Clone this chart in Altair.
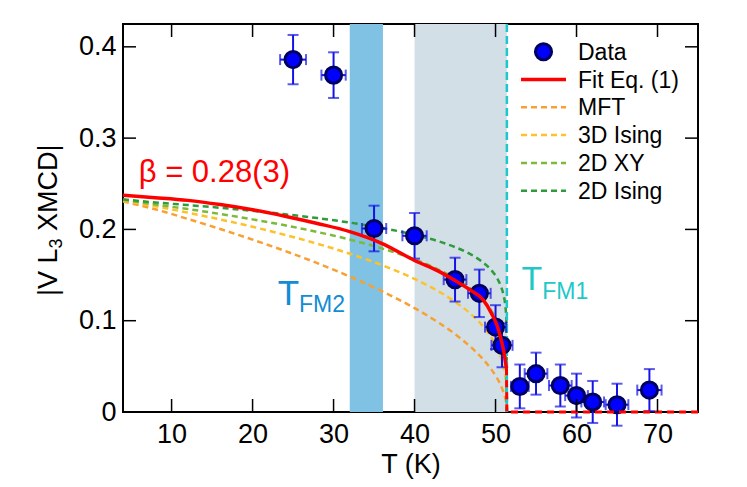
import altair as alt
import pandas as pd

# ---------------- data ----------------
T_data = [25, 30, 35, 40, 45, 48, 50, 50.8, 53, 55, 58, 60, 62, 65, 69]
M_data = [0.386, 0.369, 0.201, 0.193, 0.145, 0.130, 0.093, 0.073, 0.028, 0.042, 0.029, 0.018, 0.011, 0.008, 0.024]
M_err = [0.027, 0.025, 0.025, 0.025, 0.024, 0.026, 0.024, 0.024, 0.024, 0.023, 0.023, 0.024, 0.023, 0.023, 0.023]
T_err = [1.6, 1.5, 1.5, 1.5, 1.4, 1.4, 1.3, 1.3, 1.1, 1.4, 1.4, 1.4, 1.4, 1.4, 1.5]

T_curve = [4, 8, 12, 16, 20, 24, 28, 32, 36, 40, 43, 45, 47, 48.5, 49.5, 50.2, 50.7, 51.0, 51.2, 51.35, 51.4]
M_mft = [0.2305, 0.2220, 0.2115, 0.2005, 0.1888, 0.1764, 0.1630, 0.1484, 0.1322, 0.1138, 0.0977, 0.0853,
         0.0707, 0.0574, 0.0464, 0.0369, 0.0282, 0.0213, 0.0151, 0.0075, 0.0]
M_3dising = [0.2315, 0.2254, 0.2184, 0.2109, 0.2029, 0.1940, 0.1843, 0.1734, 0.1608, 0.1458, 0.1320, 0.1208,
             0.1069, 0.0933, 0.0813, 0.0700, 0.0587, 0.0489, 0.0390, 0.0248, 0.0]
M_2dxy = [0.2325, 0.2273, 0.2223, 0.2169, 0.2110, 0.2045, 0.1972, 0.1889, 0.1791, 0.1672, 0.1558, 0.1464,
          0.1343, 0.1220, 0.1107, 0.0996, 0.0880, 0.0774, 0.0660, 0.0480, 0.0]
M_2dising = [0.2330, 0.2295, 0.2267, 0.2237, 0.2204, 0.2166, 0.2124, 0.2075, 0.2016, 0.1941, 0.1869, 0.1806,
             0.1724, 0.1636, 0.1552, 0.1465, 0.1370, 0.1277, 0.1171, 0.0985, 0.0]

T_fit = [4, 8, 12, 16, 20, 24, 28, 32, 36, 40, 43, 45, 47, 48.5, 49.5, 50.2, 50.7, 51.0, 51.2, 51.35]
M_fit = [0.2374, 0.2348, 0.2318, 0.2272, 0.2215, 0.2145, 0.2065, 0.1975, 0.1845, 0.1660, 0.1540, 0.1440,
         0.1330, 0.1225, 0.1080, 0.0945, 0.0790, 0.0670, 0.0560, 0.0480]
T_fit_dash = [51.35, 51.4, 75]
M_fit_dash = [0.0480, 0.0, 0.0]

Tc1 = 51.4
band_lo = [32.0, 40.0]
band_hi = [36.1, 51.4]
band_col = ["#7fc2e4", "#d3dfe7"]

x_ticks = [10, 20, 30, 40, 50, 60, 70]
y_ticks = [0, 0.1, 0.2, 0.3, 0.4]

series_names = ["MFT", "3D Ising", "2D XY", "2D Ising"]
series_cols = ["#f9a032", "#fdc22a", "#7cbb3a", "#2e9c3c"]
legend_names = ["Data", "Fit Eq. (1)"] + series_names

# ---------------- layout ----------------
W, H = 575, 388
FONT = "Liberation Sans, Arial, Helvetica, sans-serif"
xs = alt.Scale(domain=[4, 75], nice=False, zero=False)
ys = alt.Scale(domain=[0, 0.425], nice=False, zero=False)

xax = alt.Axis(values=x_ticks, ticks=False, domain=False, grid=False, labelFlush=False,
               labelFontSize=27, labelFont=FONT, labelColor="black", labelPadding=9,
               title="T (K)", titleFontSize=27, titleFont=FONT, titleFontWeight="normal",
               titleColor="black", titlePadding=4)
yax = alt.Axis(values=y_ticks, format=".1~f", ticks=False, domain=False, grid=False, labelFlush=False,
               labelFontSize=27, labelFont=FONT, labelColor="black", labelPadding=7, title=None)


def X(f):
    return alt.X(f, type="quantitative", scale=xs, axis=xax)


def Y(f):
    return alt.Y(f, type="quantitative", scale=ys, axis=yax)


layers = []

# shaded bands
df_band = pd.DataFrame({"lo": band_lo, "hi": band_hi, "c": band_col})
layers.append(alt.Chart(df_band).mark_rect().encode(
    x=X("lo"), x2="hi", y=alt.value(0), y2=alt.value(H), color=alt.Color("c:N", scale=None)))

# theory curves (dashed)
rows = []
for name, vals in zip(series_names, [M_mft, M_3dising, M_2dxy, M_2dising]):
    for t, m in zip(T_curve, vals):
        rows.append({"series": name, "T": t, "M": m})
df_curves = pd.DataFrame(rows)
layers.append(alt.Chart(df_curves).mark_line(strokeDash=[6, 4], strokeWidth=2.5, interpolate="monotone").encode(
    x=X("T"), y=Y("M"),
    color=alt.Color("series:N", scale=alt.Scale(domain=series_names, range=series_cols), legend=None),
    detail="series:N"))

# Tc line
df_tc = pd.DataFrame({"T": [Tc1]})
layers.append(alt.Chart(df_tc).mark_rule(color="#1fc6cf", strokeWidth=2.5, strokeDash=[8, 4]).encode(
    x=X("T"), y=alt.value(0), y2=alt.value(H)))

# data with error bars
df_pts = pd.DataFrame({"T": T_data, "M": M_data, "Te": T_err, "Me": M_err})
df_pts["Mlo"] = df_pts["M"] - df_pts["Me"]
df_pts["Mhi"] = df_pts["M"] + df_pts["Me"]
df_pts["Tlo"] = df_pts["T"] - df_pts["Te"]
df_pts["Thi"] = df_pts["T"] + df_pts["Te"]
EB = "#1414e6"
pts = alt.Chart(df_pts)
layers.append(pts.mark_rule(color=EB, strokeWidth=2).encode(x=X("T"), y=Y("Mlo"), y2="Mhi"))
layers.append(pts.mark_rule(color=EB, strokeWidth=2).encode(x=X("Tlo"), x2="Thi", y=Y("M")))
for f in ["Mlo", "Mhi"]:
    layers.append(pts.mark_tick(color=EB, orient="horizontal", size=11, thickness=2).encode(x=X("T"), y=Y(f)))
for f in ["Tlo", "Thi"]:
    layers.append(pts.mark_tick(color=EB, orient="vertical", size=11, thickness=2).encode(x=X(f), y=Y("M")))
layers.append(pts.mark_point(shape="circle", filled=True, size=260, fill="#0000ff", stroke="#000060",
                             strokeWidth=3, opacity=1, fillOpacity=1, strokeOpacity=1).encode(x=X("T"), y=Y("M")))

# fit
df_fit = pd.DataFrame({"T": T_fit, "M": M_fit})
layers.append(alt.Chart(df_fit).mark_line(color="#ff0000", strokeWidth=3.5, interpolate="monotone").encode(
    x=X("T"), y=Y("M")))
df_fitd = pd.DataFrame({"T": T_fit_dash, "M": M_fit_dash})
layers.append(alt.Chart(df_fitd).mark_line(color="#ff0000", strokeWidth=3, strokeDash=[7, 5]).encode(
    x=X("T"), y=Y("M")))

# inward ticks on all four sides
df_xt = pd.DataFrame({"T": x_ticks})
df_yt = pd.DataFrame({"M": y_ticks[1:]})
TL = 13
layers.append(alt.Chart(df_xt).mark_rule(color="black", strokeWidth=1.5).encode(
    x=X("T"), y=alt.value(H), y2=alt.value(H - TL)))
layers.append(alt.Chart(df_xt).mark_rule(color="black", strokeWidth=1.5).encode(
    x=X("T"), y=alt.value(0), y2=alt.value(TL)))
layers.append(alt.Chart(df_yt).mark_rule(color="black", strokeWidth=1.5).encode(
    y=Y("M"), x=alt.value(0), x2=alt.value(TL)))
layers.append(alt.Chart(df_yt).mark_rule(color="black", strokeWidth=1.5).encode(
    y=Y("M"), x=alt.value(W), x2=alt.value(W - TL)))

# annotations (placed in data coordinates)
def label(txt, t, m, size, color):
    d = pd.DataFrame({"T": [t], "M": [m], "s": [txt]})
    return alt.Chart(d).mark_text(align="left", baseline="alphabetic", fontSize=size, font=FONT,
                                  color=color).encode(x=X("T"), y=Y("M"), text="s:N")

layers.append(label("β = 0.28(3)", 5.94, 0.2515, 31, "#ff0000"))
layers.append(label("T", 23.1, 0.1175, 35, "#128cd3"))
layers.append(label("FM2", 25.74, 0.109, 23, "#128cd3"))
layers.append(label("T", 53.2, 0.1332, 34, "#1fc8c8"))
layers.append(label("FM1", 55.77, 0.1238, 23, "#1fc8c8"))

# y-axis title with subscript
def ytitle(txt, x, y, size):
    return alt.Chart(pd.DataFrame({"a": [0]})).mark_text(
        angle=270, align="left", baseline="alphabetic", fontSize=size, font=FONT, color="black").encode(
        x=alt.value(x), y=alt.value(y), text=alt.value(txt))

layers.append(ytitle("|V L", -66, 272, 27))
layers.append(ytitle("3", -61, 224.5, 18))
layers.append(ytitle("XMCD|", -66, 207, 27))

# legend
LX_SYM0, LX_SYM1, LX_TXT = 398, 443, 455
row_y = [27.7 + 27.8 * i for i in range(6)]
one = pd.DataFrame({"a": [0]})
layers.append(alt.Chart(one).mark_point(shape="circle", filled=True, size=260, fill="#0000ff", stroke="#000060",
                                        strokeWidth=3, opacity=1).encode(
    x=alt.value((LX_SYM0 + LX_SYM1) / 2), y=alt.value(row_y[0])))
layers.append(alt.Chart(one).mark_rule(color="#ff0000", strokeWidth=3.5).encode(
    x=alt.value(LX_SYM0), x2=alt.value(LX_SYM1), y=alt.value(row_y[1])))
for i, c in enumerate(series_cols):
    layers.append(alt.Chart(one).mark_rule(color=c, strokeWidth=2.5, strokeDash=[6, 4]).encode(
        x=alt.value(LX_SYM0), x2=alt.value(LX_SYM1), y=alt.value(row_y[i + 2])))
for i, name in enumerate(legend_names):
    layers.append(alt.Chart(one).mark_text(align="left", baseline="middle", fontSize=23, font=FONT,
                                           color="black").encode(
        x=alt.value(LX_TXT), y=alt.value(row_y[i] + 1), text=alt.value(name)))

chart = alt.layer(*layers).properties(
    width=W, height=H,
    autosize=alt.AutoSizeParams(type="none"),
    padding={"left": 115, "top": 16, "right": 30, "bottom": 70},
    background="white",
).configure_view(stroke="black", strokeWidth=2)

chart.save("out.html", embed_options={"renderer": "svg", "actions": False})
